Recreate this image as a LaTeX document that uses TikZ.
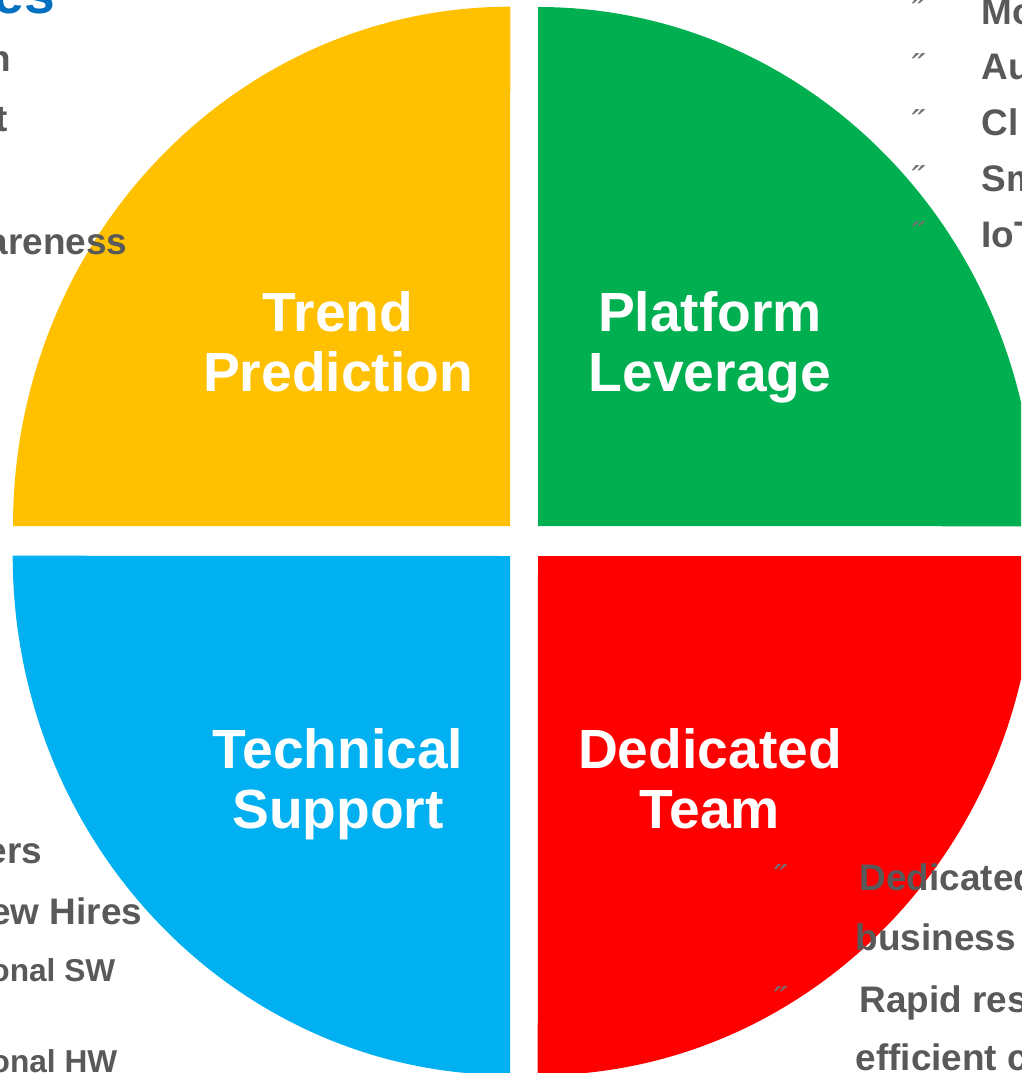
\documentclass[tikz,border=0pt]{standalone}
\usepackage{fontspec}
\setmainfont{Liberation Sans}
\usepackage{tikz}
\definecolor{trendYellow}{RGB}{255,192,0}
\definecolor{platformGreen}{RGB}{0,176,80}
\definecolor{supportBlue}{RGB}{0,176,240}
\definecolor{teamRed}{RGB}{255,0,0}
\definecolor{noteGray}{RGB}{89,89,89}
\definecolor{headBlue}{RGB}{0,112,192}

\begin{document}
\begin{tikzpicture}[
  x=0.01cm, y=-0.01cm,
  quadrant/.style={x radius=4.97cm, y radius=5.19cm},
  pillar/.style={text=white, font=\fontsize{15.7}{17.07}\selectfont\bfseries,
                 align=center, anchor=north, inner sep=0pt},
  note/.style={text=noteGray, font=\fontsize{10.5}{12}\selectfont\bfseries, inner sep=0pt},
  smallnote/.style={note, font=\fontsize{9}{11}\selectfont\bfseries},
  bulletmark/.style={text=noteGray!85, font=\fontsize{10}{12}\selectfont,
                     inner sep=0pt, anchor=base west}
]
  \useasboundingbox (0,0) rectangle (1021,1073);
  \clip (0,0) rectangle (1021,1073);

  % Quadrants
  \fill[trendYellow]   (510,526) -- (13,526)   arc[start angle=180, end angle=90,  quadrant] -- cycle;
  \fill[platformGreen] (538,526) -- (538,7)    arc[start angle=90,  end angle=0,   quadrant] -- cycle;
  \fill[teamRed]       (538,556) -- (1035,556) arc[start angle=0,   end angle=-90, quadrant] -- cycle;
  \fill[supportBlue]   (510,556) -- (510,1075) arc[start angle=270, end angle=180, quadrant] -- cycle;

  % Titres des quadrants
  \node[pillar] (trend)    at (338,291) {Trend\\Prediction};
  \node[pillar] (platform) at (710,291) {Platform\\Leverage};
  \node[pillar] (support)  at (338,728) {Technical\\Support};
  \node[pillar] (team)     at (710,728) {Dedicated\\Team};

  % Texte en haut a gauche
  \node[anchor=base east, inner sep=0pt, text=headBlue,
        font=\fontsize{15.7}{17}\selectfont\bfseries] (head) at (56,14) {es};
  \node[note, anchor=base east] (trendA) at (12,72)   {n};
  \node[note, anchor=base east] (trendB) at (8,132)   {t};
  \node[note, anchor=base east] (trendC) at (128,254) {areness};

  % Texte en haut a droite
  \foreach \y/\txt [count=\i] in {25/Mo, 80/Au, 136/Cl, 192/Sm, 248/IoT}{
    \node[bulletmark] (platDot\i) at (911,\y) {˝};
    \node[note, anchor=base west] (plat\i) at (981,\y) {\txt};
  }

  % Texte en bas a gauche
  \node[note, anchor=base east]      (suppA) at (43,863)   {ers};
  \node[note, anchor=base east]      (suppB) at (143,924)  {ew Hires};
  \node[smallnote, anchor=base east] (suppC) at (116,981)  {onal SW};
  \node[smallnote, anchor=base east] (suppD) at (118,1072) {onal HW};

  % Texte en bas a droite
  \node[bulletmark] (teamDotA) at (773,890)  {˝};
  \node[bulletmark] (teamDotB) at (773,1012) {˝};
  \node[note, anchor=base west] (teamA) at (859,890)  {Dedicated};
  \node[note, anchor=base west] (teamB) at (855,950)  {business};
  \node[note, anchor=base west] (teamC) at (859,1012) {Rapid res};
  \node[note, anchor=base west] (teamD) at (855,1070) {efficient c};
\end{tikzpicture}
\end{document}
